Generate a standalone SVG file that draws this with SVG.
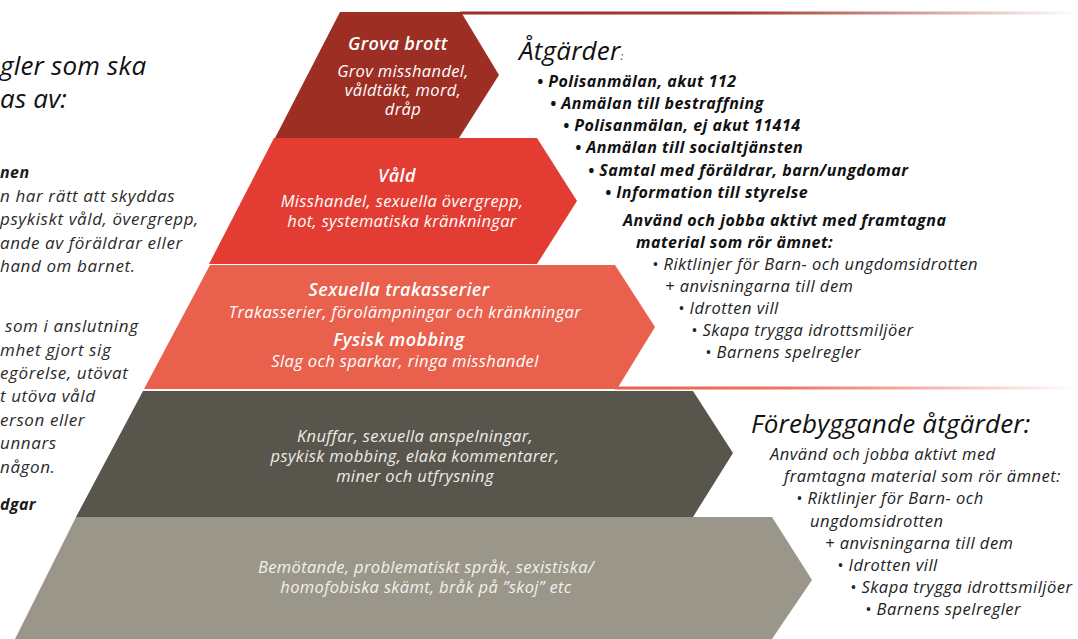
<svg xmlns="http://www.w3.org/2000/svg" width="1078" height="639" viewBox="0 0 1078 639">
<defs>
<linearGradient id="gTop" x1="0" y1="0" x2="1" y2="0">
<stop offset="0" stop-color="#9C2E24"/>
<stop offset="0.45" stop-color="#A43A30"/>
<stop offset="1" stop-color="#9C2E24" stop-opacity="0"/>
</linearGradient>
<linearGradient id="gMid" x1="0" y1="0" x2="1" y2="0">
<stop offset="0" stop-color="#E9604D"/>
<stop offset="0.35" stop-color="#EC7564"/>
<stop offset="1" stop-color="#E9604D" stop-opacity="0"/>
</linearGradient>
<style>
text{font-family:"Open Sans","Noto Sans","DejaVu Sans",sans-serif;font-style:italic}
.lay{fill:#fff;font-size:16.5px;letter-spacing:0.35px;text-anchor:middle}
.layt{fill:#fff;font-size:18px;font-weight:600;letter-spacing:0.4px;text-anchor:middle}
.left{fill:#2a2a2a;font-size:17px;letter-spacing:0.6px}
.leftb{fill:#1a1a1a;font-size:16px;font-weight:700;letter-spacing:0.4px}
.big{fill:#111;font-size:26px;letter-spacing:0.2px}
.rb{fill:#111;font-size:16px;font-weight:700;letter-spacing:0.5px}
.rn{fill:#222;font-size:16.5px;letter-spacing:0.5px}
</style>
</defs>
<g id="decor">
<rect x="460" y="11.5" width="618" height="3" fill="url(#gTop)"/>
<rect x="615" y="386.5" width="463" height="3" fill="url(#gMid)"/>
</g>
<g id="layer5">
<polygon points="76,517 772,517 812,580 772,639 15,639" fill="#9A968A"/>
<text class="lay" style="fill:#F2F0EC" x="426" y="573">Bemötande, problematiskt språk, sexistiska/</text>
<text class="lay" style="fill:#F2F0EC" x="426" y="593">homofobiska skämt, bråk på ”skoj” etc</text>
</g>
<g id="layer4">
<polygon points="143,391 693,391 733,453 693,517 76,517" fill="#58554C"/>
<text class="lay" style="fill:#EDEBE6" x="415" y="442">Knuffar, sexuella anspelningar,</text>
<text class="lay" style="fill:#EDEBE6" x="415" y="462">psykisk mobbing, elaka kommentarer,</text>
<text class="lay" style="fill:#EDEBE6" x="415" y="482">miner och utfrysning</text>
</g>
<g id="layer3">
<polygon points="210,265 615,265 655,327 617,389 144,389" fill="#E9604D"/>
<text class="layt" x="399" y="296">Sexuella trakasserier</text>
<text class="lay" x="405" y="318">Trakasserier, förolämpningar och kränkningar</text>
<text class="layt" x="399" y="346">Fysisk mobbing</text>
<text class="lay" x="405" y="367">Slag och sparkar, ringa misshandel</text>
</g>
<g id="layer2">
<polygon points="274,138 537,138 577,201 537,264 209,264" fill="#E33D33"/>
<text class="layt" x="397" y="182">Våld</text>
<text class="lay" x="402" y="207">Misshandel, sexuella övergrepp,</text>
<text class="lay" x="402" y="227">hot, systematiska kränkningar</text>
</g>
<g id="layer1">
<polygon points="340,12 461,12 499,75 459,138 275,138" fill="#9C2E24"/>
<text class="layt" x="398" y="50">Grova brott</text>
<text class="lay" x="403" y="77">Grov misshandel,</text>
<text class="lay" x="403" y="96">våldtäkt, mord,</text>
<text class="lay" x="403" y="115">dråp</text>
</g>
<g id="left-text">
<text class="big" x="0" y="75">gler som ska</text>
<text class="big" x="0" y="108">as av:</text>
<text class="leftb" x="0" y="178">nen</text>
<text class="left" x="0" y="202">n har rätt att skyddas</text>
<text class="left" x="0" y="225">psykiskt våld, övergrepp,</text>
<text class="left" x="0" y="249">ande av föräldrar eller</text>
<text class="left" x="0" y="272">hand om barnet.</text>
<text class="left" x="5" y="332">som i anslutning</text>
<text class="left" x="0" y="356">mhet gjort sig</text>
<text class="left" x="0" y="379">egörelse, utövat</text>
<text class="left" x="0" y="402">t utöva våld</text>
<text class="left" x="0" y="426">erson eller</text>
<text class="left" x="0" y="449">unnars</text>
<text class="left" x="0" y="473">någon.</text>
<text class="leftb" x="0" y="510">dgar</text>
</g>
<g id="atgarder">
<text class="big" x="519" y="60">Åtgärder<tspan font-size="11px">:</tspan></text>
<text class="rb" x="537" y="87">• Polisanmälan, akut 112</text>
<text class="rb" x="550" y="109">• Anmälan till bestraffning</text>
<text class="rb" x="563" y="131">• Polisanmälan, ej akut 11414</text>
<text class="rb" x="575" y="153">• Anmälan till socialtjänsten</text>
<text class="rb" x="588" y="176">• Samtal med föräldrar, barn/ungdomar</text>
<text class="rb" x="605" y="198">• Information till styrelse</text>
<text class="rb" x="623" y="226">Använd och jobba aktivt med framtagna</text>
<text class="rb" x="636" y="248">material som rör ämnet:</text>
<text class="rn" x="652" y="270">• Riktlinjer för Barn- och ungdomsidrotten</text>
<text class="rn" x="665" y="292">+ anvisningarna till dem</text>
<text class="rn" x="678" y="314">• Idrotten vill</text>
<text class="rn" x="691" y="336">• Skapa trygga idrottsmiljöer</text>
<text class="rn" x="705" y="358">• Barnens spelregler</text>
</g>
<g id="forebyggande">
<text class="big" x="751" y="433">Förebyggande åtgärder:</text>
<text class="rn" x="770" y="460">Använd och jobba aktivt med</text>
<text class="rn" x="784" y="482">framtagna material som rör ämnet:</text>
<text class="rn" x="796" y="504">• Riktlinjer för Barn- och</text>
<text class="rn" x="810" y="527">ungdomsidrotten</text>
<text class="rn" x="825" y="549">+ anvisningarna till dem</text>
<text class="rn" x="837" y="571">• Idrotten vill</text>
<text class="rn" x="850" y="593">• Skapa trygga idrottsmiljöer</text>
<text class="rn" x="865" y="615">• Barnens spelregler</text>
</g>
</svg>
